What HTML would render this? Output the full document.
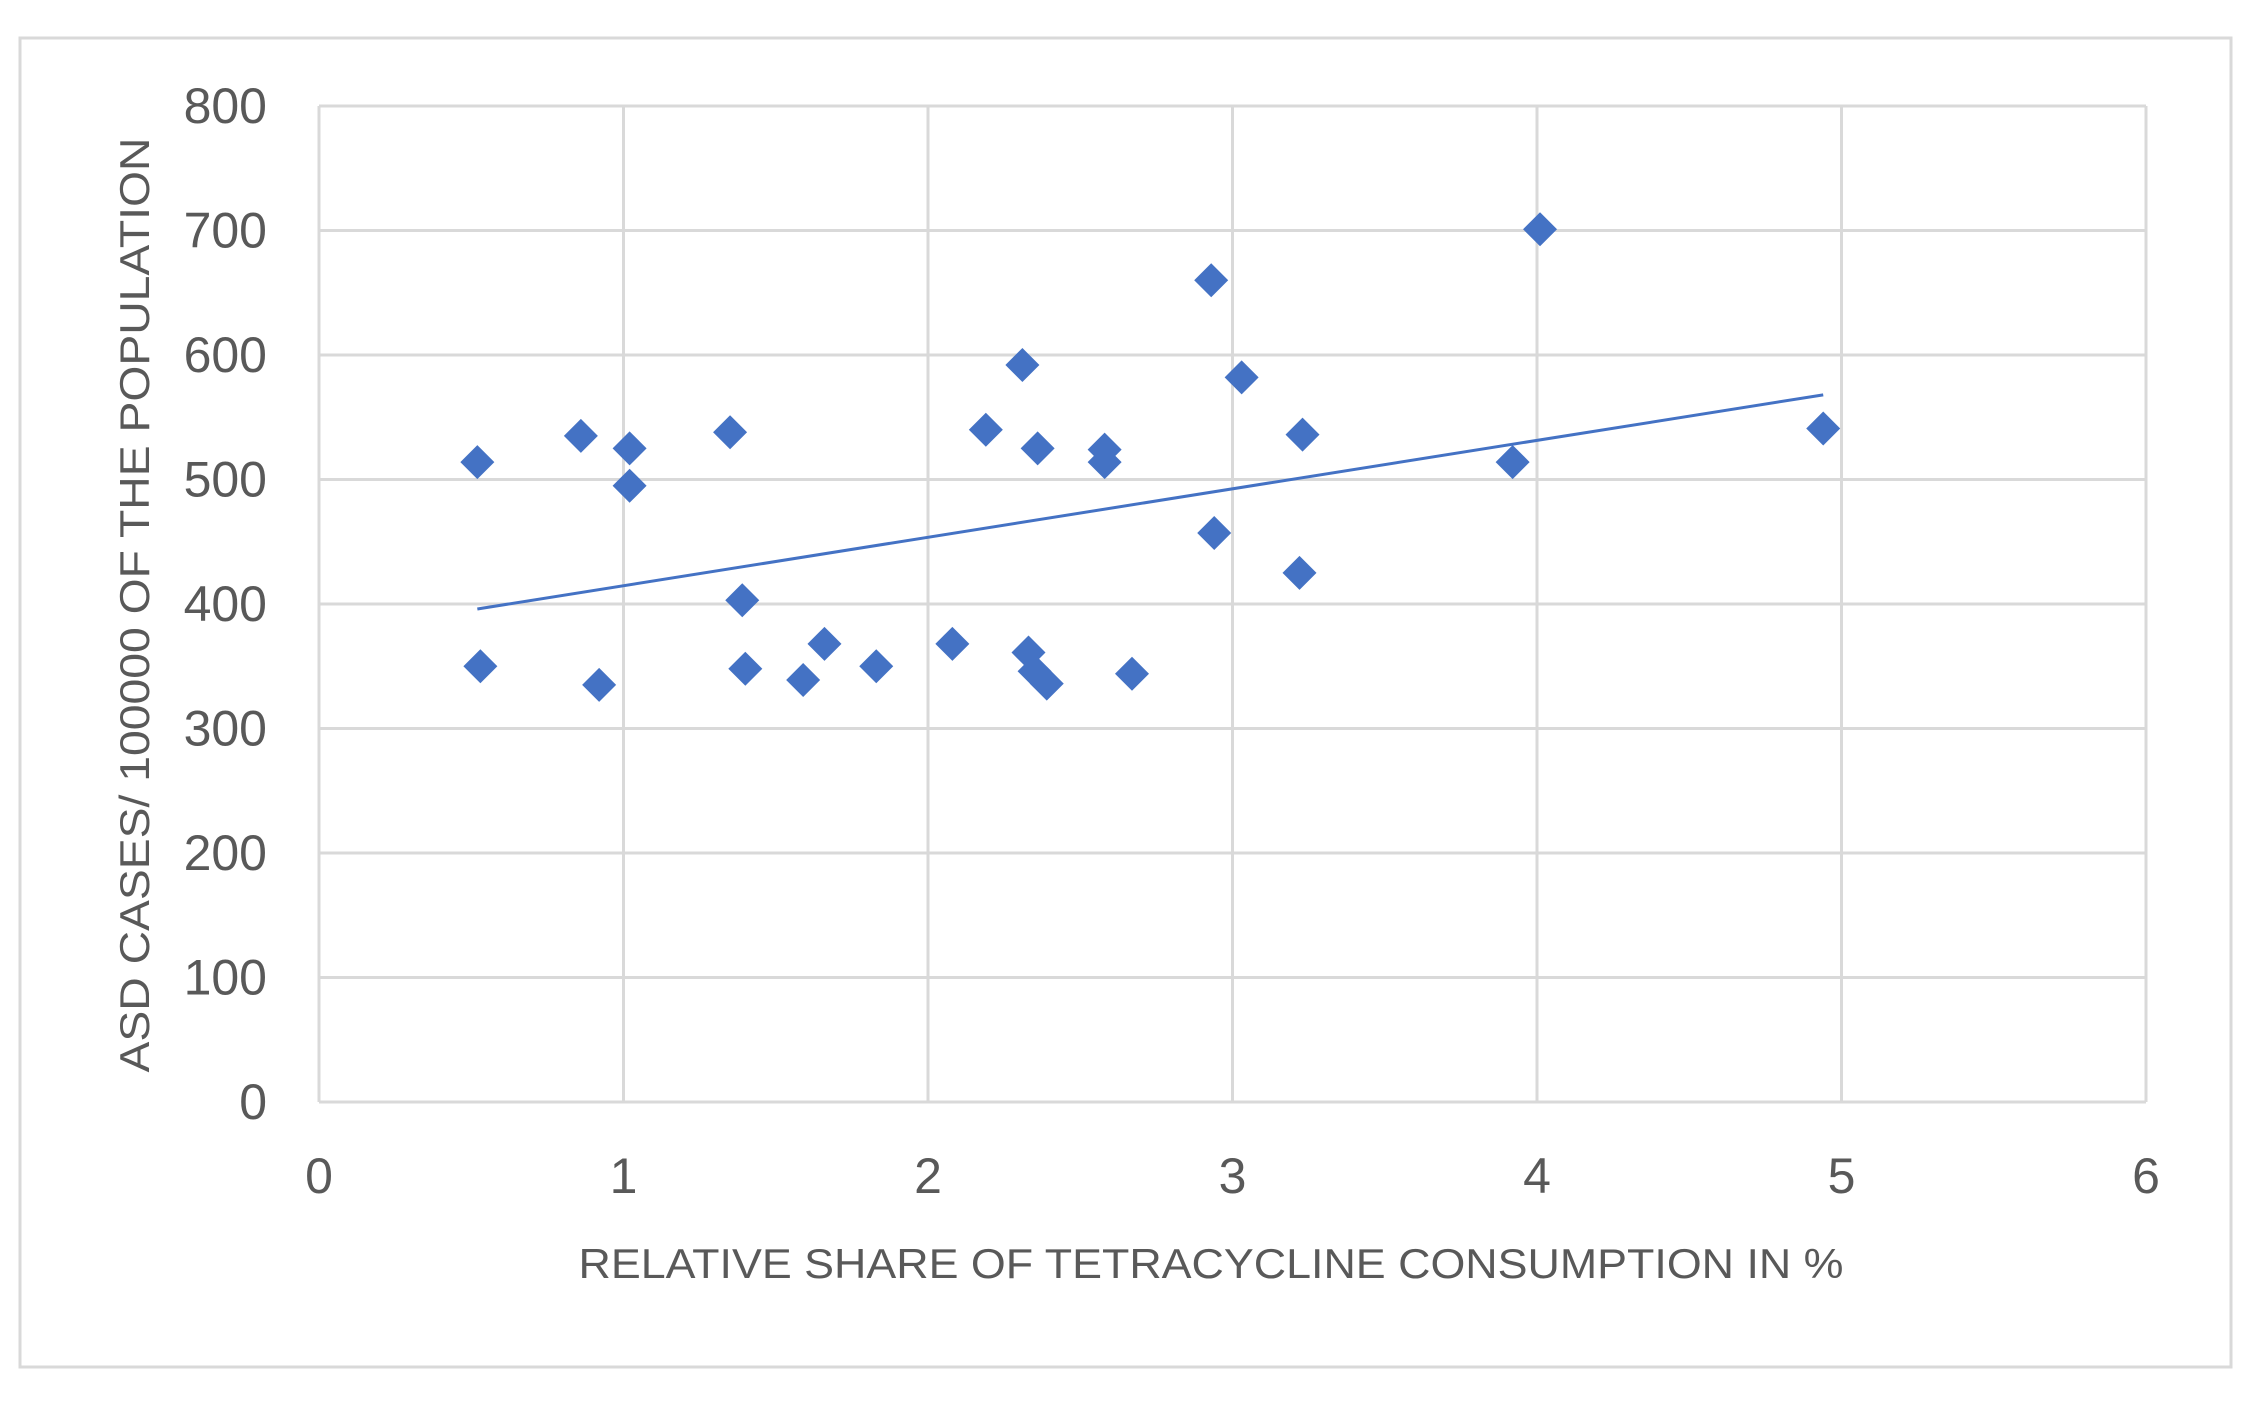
<!DOCTYPE html>
<html><head><meta charset="utf-8"><style>html,body{margin:0;padding:0;background:#fff}svg{display:block}</style></head>
<body>
<svg id="chart" width="2256" height="1403" xmlns="http://www.w3.org/2000/svg" font-family="Liberation Sans, sans-serif">
<rect x="20" y="38" width="2211" height="1329" fill="#fff" stroke="#d9d9d9" stroke-width="3"/>
<g id="grid"></g>
<g id="ticks" fill="#595959" font-size="50"></g>
<g id="marks"></g>
<text x="1211" y="1278" text-anchor="middle" font-size="42" fill="#595959" textLength="1265" lengthAdjust="spacingAndGlyphs">RELATIVE SHARE OF TETRACYCLINE CONSUMPTION IN %</text>
<text transform="translate(149,605) rotate(-90)" text-anchor="middle" font-size="42" fill="#595959" textLength="935" lengthAdjust="spacingAndGlyphs">ASD CASES/ 100000 OF THE POPULATION</text>
</svg>
<script>
const xTicks=[0,1,2,3,4,5,6];
const yTicks=[0,100,200,300,400,500,600,700,800];
const xValues=[0.52,0.53,0.86,0.92,1.02,1.02,1.35,1.39,1.40,1.59,1.66,1.83,2.08,2.19,2.31,2.33,2.35,2.36,2.39,2.58,2.58,2.67,2.93,2.94,3.03,3.23,3.22,3.92,4.01,4.94];
const yValues=[514,350,535,335,525,495,538,403,348,339,368,350,368,540,592,361,346,525,336,524,514,344,660,457,582,536,425,514,701,541];
const trendX=[0.52,4.94];
const trendY=[396,568];
const X0=319,X1=2146,Y0=1102,Y1=106;
const sx=v=>X0+(v-0)/(6-0)*(X1-X0);
const sy=v=>Y0-(v-0)/(800-0)*(Y0-Y1);
const NS="http://www.w3.org/2000/svg";
const grid=document.getElementById('grid'),ticks=document.getElementById('ticks'),marks=document.getElementById('marks');
function mk(tag,attrs,parent){const e=document.createElementNS(NS,tag);for(const k in attrs)e.setAttribute(k,attrs[k]);parent.appendChild(e);return e;}
yTicks.forEach(t=>{
  const l=mk('line',{x1:X0,x2:X1,y1:sy(t),y2:sy(t),stroke:'#d9d9d9','stroke-width':3},grid);
  
  
  const tx=mk('text',{x:267,y:sy(t)+17,'text-anchor':'end'},ticks);
  tx.textContent=t;
  
  
});
xTicks.forEach(t=>{
  const l=mk('line',{x1:sx(t),x2:sx(t),y1:Y1,y2:Y0,stroke:'#d9d9d9','stroke-width':3},grid);
  
  
  const tx=mk('text',{x:sx(t),y:1193,'text-anchor':'middle'},ticks);
  tx.textContent=t;
  
  
});
const tl=mk('line',{x1:sx(trendX[0]),y1:sy(trendY[0]),x2:sx(trendX[1]),y2:sy(trendY[1]),stroke:'#4472c4','stroke-width':3},marks);


const r=17;
xValues.forEach((v,i)=>{
  const cx=sx(v),cy=sy(yValues[i]);
  const p=mk('polygon',{points:`${cx},${cy-r} ${cx+r},${cy} ${cx},${cy+r} ${cx-r},${cy}`,fill:'#4472c4'},marks);
  
  
});
</script>
</body></html>
